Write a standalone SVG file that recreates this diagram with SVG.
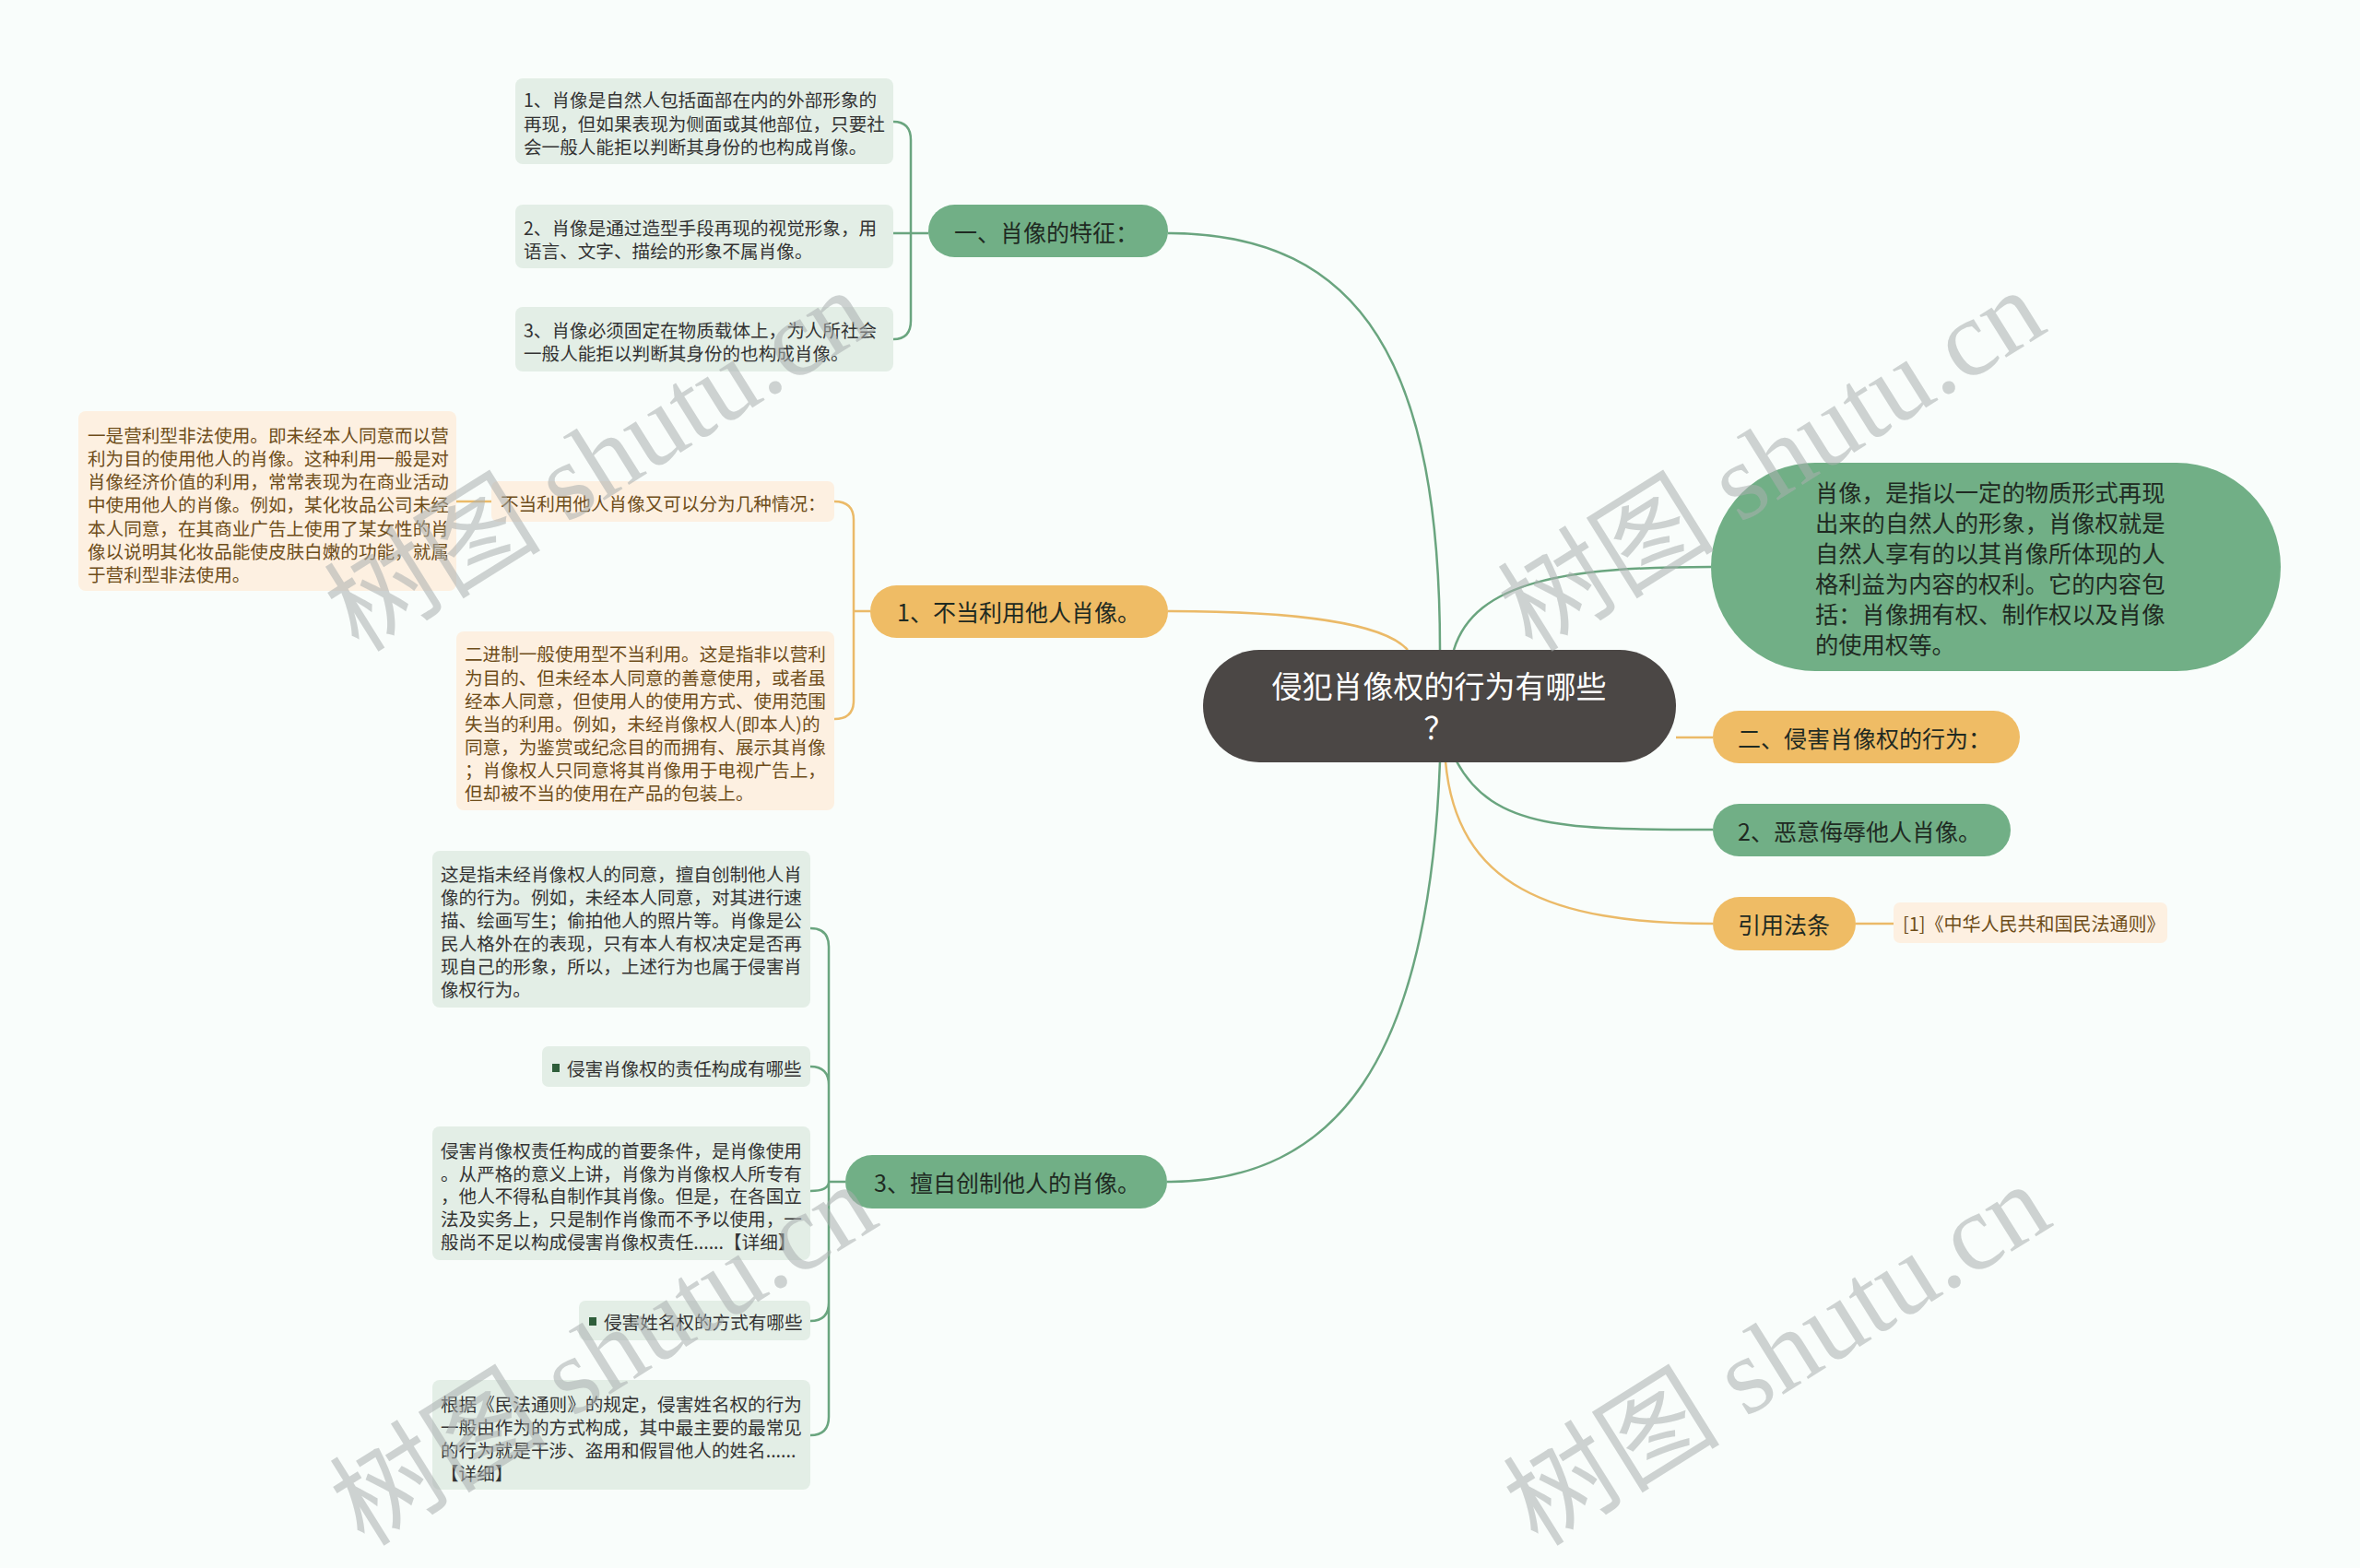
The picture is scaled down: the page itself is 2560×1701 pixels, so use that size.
<svg xmlns="http://www.w3.org/2000/svg" width="2560" height="1701" viewBox="0 0 2560 1701">
<style>
text{font-family:"Noto Sans CJK SC","Noto Sans",sans-serif;dominant-baseline:central}
.bg{fill:#f9fdfb}
.gn{fill:#71af86}
.on{fill:#efbc65}
.gl{fill:#e3eee6}
.cl{fill:#fdf0e1}
.t25{font-size:25px;fill:#1f2a22}
.lt{font-size:19.6px;fill:#333333}
.ct{font-size:19.6px;fill:#6e4d1a}
.gc{fill:none;stroke:#6aa57f;stroke-width:2.5}
.oc{fill:none;stroke:#ebba68;stroke-width:2.5}
.wm{font-family:"Liberation Serif","Noto Sans CJK SC",serif;font-size:118px;fill:#a9afaf;fill-opacity:0.55}
</style>
<rect class="bg" x="0" y="0" width="2560" height="1701"/>
<g id="connectors">
<path class="gc" d="M1562,705 C1562,400 1480,253 1267,253"/>
<path class="oc" d="M1267,663 C1400,663 1500,675 1527,705"/>
<path class="gc" d="M1577,705 C1600,630 1700,615 1856,615"/>
<path class="oc" d="M1818,800 H1858"/>
<path class="gc" d="M1580,826 C1620,900 1700,900 1858,900"/>
<path class="oc" d="M1568,826 C1580,960 1680,1002 1858,1002"/>
<path class="gc" d="M1562,826 C1550,1150 1450,1282 1266,1282"/>
<path class="oc" d="M2013,1002 H2054"/>
<path class="gc" d="M1007,253 H988 M988,253 V152 Q988,132 969,132 M988,253 H969 M988,253 V348 Q988,368 969,368"/>
<path class="oc" d="M944,663 H926 M926,663 V564 Q926,544 905,544 M926,663 V760 Q926,780 905,780 M533,544 H495"/>
<path class="gc" d="M917,1282 H899 M899,1282 V1027 Q899,1007 879,1007 M899,1282 V1177 Q899,1157 879,1157 M899,1282 Q899,1292 879,1292 M899,1282 V1413 Q899,1433 879,1433 M899,1282 V1537 Q899,1557 879,1557"/>
</g>
<g id="root">
<rect x="1305" y="705" width="513" height="122" rx="61" fill="#4b4745"/>
<text x="1561" y="743" text-anchor="middle" style="font-size:33px;fill:#ffffff">侵犯肖像权的行为有哪些</text>
<text x="1561" y="788" text-anchor="middle" style="font-size:33px;fill:#ffffff">？</text>
</g>
<g id="n-tezheng">
<rect class="gn" x="1007" y="222" width="260" height="57" rx="28.5"/>
<text class="t25" x="1035" y="251">一、肖像的特征：</text>
</g>
<g id="n-tz1">
<rect class="gl" x="559" y="85" width="410" height="93" rx="8"/>
<text class="lt"><tspan x="568" y="107">1、肖像是自然人包括面部在内的外部形象的</tspan><tspan x="568" y="133">再现，但如果表现为侧面或其他部位，只要社</tspan><tspan x="568" y="158">会一般人能拒以判断其身份的也构成肖像。</tspan></text>
</g>
<g id="n-tz2">
<rect class="gl" x="559" y="222" width="410" height="69" rx="8"/>
<text class="lt"><tspan x="568" y="246">2、肖像是通过造型手段再现的视觉形象，用</tspan><tspan x="568" y="271">语言、文字、描绘的形象不属肖像。</tspan></text>
</g>
<g id="n-tz3">
<rect class="gl" x="559" y="333" width="410" height="70" rx="8"/>
<text class="lt"><tspan x="568" y="357">3、肖像必须固定在物质载体上，为人所社会</tspan><tspan x="568" y="382">一般人能拒以判断其身份的也构成肖像。</tspan></text>
</g>
<g id="n-budang">
<rect class="on" x="944" y="635" width="323" height="57" rx="28.5"/>
<text class="t25" x="973" y="663">1、不当利用他人肖像。</text>
</g>
<g id="n-qingkuang">
<rect class="cl" x="533" y="522" width="372" height="44" rx="7"/>
<text class="ct" x="543" y="545">不当利用他人肖像又可以分为几种情况：</text>
</g>
<g id="n-yingli">
<rect class="cl" x="85" y="446" width="410" height="195" rx="8"/>
<text class="ct"><tspan x="95" y="471">一是营利型非法使用。即未经本人同意而以营</tspan><tspan x="95" y="496">利为目的使用他人的肖像。这种利用一般是对</tspan><tspan x="95" y="521">肖像经济价值的利用，常常表现为在商业活动</tspan><tspan x="95" y="546">中使用他人的肖像。例如，某化妆品公司未经</tspan><tspan x="95" y="572">本人同意，在其商业广告上使用了某女性的肖</tspan><tspan x="95" y="597">像以说明其化妆品能使皮肤白嫩的功能，就属</tspan><tspan x="95" y="622">于营利型非法使用。</tspan></text>
</g>
<g id="n-erjinzhi">
<rect class="cl" x="495" y="685" width="410" height="194" rx="8"/>
<text class="ct"><tspan x="504" y="708">二进制一般使用型不当利用。这是指非以营利</tspan><tspan x="504" y="734">为目的、但未经本人同意的善意使用，或者虽</tspan><tspan x="504" y="759">经本人同意，但使用人的使用方式、使用范围</tspan><tspan x="504" y="784">失当的利用。例如，未经肖像权人(即本人)的</tspan><tspan x="504" y="809">同意，为鉴赏或纪念目的而拥有、展示其肖像</tspan><tspan x="504" y="834">；肖像权人只同意将其肖像用于电视广告上，</tspan><tspan x="504" y="859">但却被不当的使用在产品的包装上。</tspan></text>
</g>
<g id="n-chuangzhi">
<rect class="gn" x="917" y="1253" width="349" height="58" rx="29"/>
<text class="t25" x="948" y="1282">3、擅自创制他人的肖像。</text>
</g>
<g id="n-cz1">
<rect class="gl" x="469" y="923" width="410" height="170" rx="8"/>
<text class="lt"><tspan x="478" y="947">这是指未经肖像权人的同意，擅自创制他人肖</tspan><tspan x="478" y="972">像的行为。例如，未经本人同意，对其进行速</tspan><tspan x="478" y="997">描、绘画写生；偷拍他人的照片等。肖像是公</tspan><tspan x="478" y="1022">民人格外在的表现，只有本人有权决定是否再</tspan><tspan x="478" y="1047">现自己的形象，所以，上述行为也属于侵害肖</tspan><tspan x="478" y="1072">像权行为。</tspan></text>
</g>
<g id="n-cz2">
<rect class="gl" x="588" y="1135" width="291" height="44" rx="7"/>
<rect x="599" y="1154" width="8" height="9" fill="#2f5e3b"/>
<text class="lt" x="615" y="1158">侵害肖像权的责任构成有哪些</text>
</g>
<g id="n-cz3">
<rect class="gl" x="469" y="1222" width="410" height="145" rx="8"/>
<text class="lt"><tspan x="478" y="1247">侵害肖像权责任构成的首要条件，是肖像使用</tspan><tspan x="478" y="1272">。从严格的意义上讲，肖像为肖像权人所专有</tspan><tspan x="478" y="1296">，他人不得私自制作其肖像。但是，在各国立</tspan><tspan x="478" y="1321">法及实务上，只是制作肖像而不予以使用，一</tspan><tspan x="478" y="1346">般尚不足以构成侵害肖像权责任......【详细】</tspan></text>
</g>
<g id="n-cz4">
<rect class="gl" x="628" y="1411" width="251" height="43" rx="7"/>
<rect x="639" y="1429" width="8" height="9" fill="#2f5e3b"/>
<text class="lt" x="655" y="1433">侵害姓名权的方式有哪些</text>
</g>
<g id="n-cz5">
<rect class="gl" x="469" y="1497" width="410" height="119" rx="8"/>
<text class="lt"><tspan x="478" y="1522">根据《民法通则》的规定，侵害姓名权的行为</tspan><tspan x="478" y="1547">一般由作为的方式构成，其中最主要的最常见</tspan><tspan x="478" y="1572">的行为就是干涉、盗用和假冒他人的姓名......</tspan><tspan x="478" y="1597">【详细】</tspan></text>
</g>
<g id="n-dingyi">
<rect class="gn" x="1856" y="502" width="618" height="226" rx="113"/>
<text style="font-size:25.3px;fill:#1f2a22"><tspan x="1969" y="533">肖像，是指以一定的物质形式再现</tspan><tspan x="1969" y="566">出来的自然人的形象，肖像权就是</tspan><tspan x="1969" y="599">自然人享有的以其肖像所体现的人</tspan><tspan x="1969" y="632">格利益为内容的权利。它的内容包</tspan><tspan x="1969" y="665">括：肖像拥有权、制作权以及肖像</tspan><tspan x="1969" y="698">的使用权等。</tspan></text>
</g>
<g id="n-xingwei">
<rect class="on" x="1858" y="771" width="333" height="57" rx="28.5"/>
<text class="t25" x="1885" y="800">二、侵害肖像权的行为：</text>
</g>
<g id="n-wuru">
<rect class="gn" x="1858" y="872" width="323" height="57" rx="28.5"/>
<text class="t25" x="1885" y="901">2、恶意侮辱他人肖像。</text>
</g>
<g id="n-fatiao">
<rect class="on" x="1858" y="973" width="155" height="58" rx="29"/>
<text class="t25" x="1935" y="1002" text-anchor="middle">引用法条</text>
</g>
<g id="n-tongze">
<rect class="cl" x="2054" y="979" width="297" height="44" rx="7"/>
<text x="2064" y="1001" style="font-size:20px;fill:#6e4d1a">[1]《中华人民共和国民法通则》</text>
</g>
<g id="watermarks">
<text class="wm" x="649" y="500" text-anchor="middle" transform="rotate(-32 649 500)">树图 shutu.cn</text>
<text class="wm" x="1922" y="500" text-anchor="middle" transform="rotate(-32 1922 500)">树图 shutu.cn</text>
<text class="wm" x="655" y="1470" text-anchor="middle" transform="rotate(-32 655 1470)">树图 shutu.cn</text>
<text class="wm" x="1928" y="1470" text-anchor="middle" transform="rotate(-32 1928 1470)">树图 shutu.cn</text>
</g>
</svg>
